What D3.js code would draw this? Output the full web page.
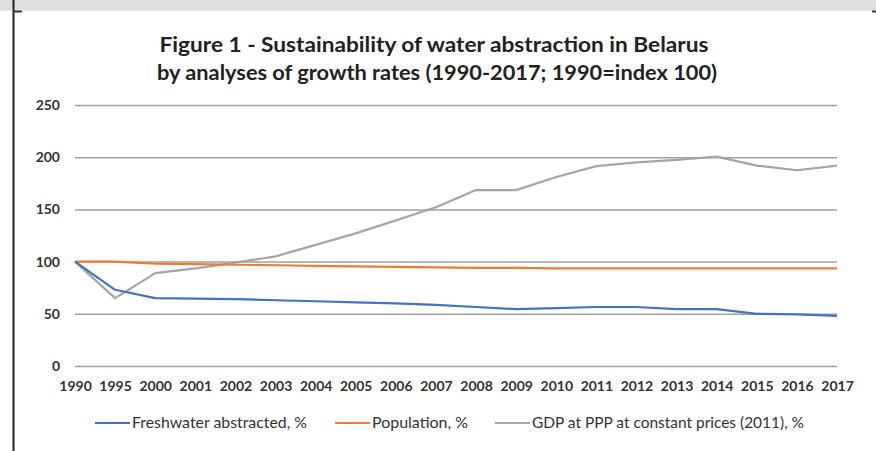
<!DOCTYPE html>
<html>
<head>
<meta charset="utf-8">
<script src="https://cdn.jsdelivr.net/npm/d3@7"></script>
<style>
  body { margin: 0; background: #fff; }
  svg { display: block; font-family: Lato, "Open Sans", sans-serif; }
</style>
</head>
<body>
<div class="linechart"></div>
<script>
// categories on the x axis
let years = ["1990", "1995", "2000", "2001", "2002", "2003", "2004", "2005", "2006", "2007",
             "2008", "2009", "2010", "2011", "2012", "2013", "2014", "2015", "2016", "2017"];

// series (1990 = 100)
let freshwater = [100, 73, 65, 64.5, 64, 63, 62, 61, 60, 58.5, 56.5, 54.5, 55.5, 56.5, 56.5, 54.5, 54.5, 50, 49.5, 48];
let population = [100, 100, 98, 97.5, 97, 96.5, 96, 95.5, 95, 94.5, 94, 94, 93.5, 93.5, 93.5, 93.5, 93.5, 93.5, 93.5, 93.5];
let gdp = [100, 65, 89, 93.5, 99, 105, 116, 127, 139.5, 152, 168.5, 168.5, 181, 191.5, 195, 197.5, 200.5, 192, 187.5, 192];

let yTicks = [0, 50, 100, 150, 200, 250];

let seriesNames = ["Freshwater abstracted, %", "Population, %", "GDP at PPP at constant prices (2011), %"];
let seriesColors = ["#4472c4", "#ed7d31", "#a5a5a5"];

let W = 876, H = 451;
let margin = {top: 105, right: 39, bottom: 85, left: 75};
let width = W - margin.left - margin.right,
    height = H - margin.top - margin.bottom;

let root = d3.select(".linechart").append("svg")
    .attr("width", W)
    .attr("height", H);

// page frame bits around the chart
root.append("rect").attr("x", 0).attr("y", 0).attr("width", W).attr("height", 10).attr("fill", "#dedede");
root.append("line").attr("x1", 0).attr("x2", W).attr("y1", 10.5).attr("y2", 10.5)
    .attr("stroke", "#ececec").attr("stroke-width", 1);
root.append("line").attr("x1", 13.5).attr("x2", 13.5).attr("y1", 0).attr("y2", H)
    .attr("stroke", "#222").attr("stroke-width", 2);
root.append("line").attr("x1", 13).attr("x2", 22).attr("y1", 11.5).attr("y2", 11.5)
    .attr("stroke", "#333").attr("stroke-width", 2);
root.append("line").attr("x1", 872).attr("x2", W).attr("y1", 11.5).attr("y2", 11.5)
    .attr("stroke", "#333").attr("stroke-width", 2);

// title
let title = root.append("text")
    .attr("text-anchor", "middle")
    .attr("font-weight", "bold")
    .attr("font-size", 20)
    .attr("fill", "#222");
title.append("tspan").attr("x", 434).attr("y", 52)
    .attr("textLength", 549).attr("lengthAdjust", "spacingAndGlyphs")
    .text("Figure 1 - Sustainability of water abstraction in Belarus");
title.append("tspan").attr("x", 437).attr("y", 80)
    .attr("textLength", 560).attr("lengthAdjust", "spacingAndGlyphs")
    .text("by analyses of growth rates (1990-2017; 1990=index 100)");

let svg = root.append("g")
    .attr("transform", "translate(" + margin.left + "," + margin.top + ")");

const xScale = d3.scalePoint()
    .domain(years)
    .range([0, width]);

const yScale = d3.scaleLinear()
    .domain([0, 250])
    .range([height, 0]);

// gridlines
svg.append("g")
    .call(d3.axisLeft(yScale).tickValues(yTicks).tickSize(-width).tickPadding(15))
    .call(g => g.select(".domain").remove())
    .call(g => g.selectAll(".tick line").attr("stroke", "#a0a0a0").attr("stroke-width", 1.5))
    .call(g => g.selectAll(".tick text")
        .attr("font-size", 14).attr("font-weight", "bold").attr("fill", "#333")
        .attr("font-family", "Lato, sans-serif"));

// x axis labels
svg.append("g")
    .attr("transform", `translate(0, ${height})`)
    .call(d3.axisBottom(xScale).tickSize(0).tickPadding(15))
    .call(g => g.select(".domain").remove())
    .call(g => g.selectAll(".tick text")
        .attr("font-size", 14).attr("font-weight", "bold").attr("fill", "#333")
        .attr("font-family", "Lato, sans-serif"));

let allSeries = [freshwater, population, gdp];

// draw gdp first, freshwater on top like the reference
[2, 1, 0].forEach(function(i) {
    svg.append("path")
        .datum(allSeries[i])
        .attr("fill", "none")
        .attr("stroke", seriesColors[i])
        .attr("stroke-width", 2.2)
        .attr("stroke-linejoin", "round")
        .attr("d", d3.line()
            .x(function(d, j) { return xScale(years[j]); })
            .y(function(d) { return yScale(d); }));
});

// legend
let legendX = [95, 335, 495];
let legendW = [175, 96, 272];
let legend = root.append("g").attr("transform", "translate(0, 423)");
seriesNames.forEach(function(name, i) {
    legend.append("line")
        .attr("x1", legendX[i]).attr("x2", legendX[i] + 35)
        .attr("y1", 0).attr("y2", 0)
        .attr("stroke", seriesColors[i]).attr("stroke-width", 2.2);
    legend.append("text")
        .attr("x", legendX[i] + 37).attr("y", 5)
        .attr("font-size", 15).attr("fill", "#333")
        .attr("textLength", legendW[i]).attr("lengthAdjust", "spacingAndGlyphs")
        .text(name);
});
</script>
</body>
</html>
